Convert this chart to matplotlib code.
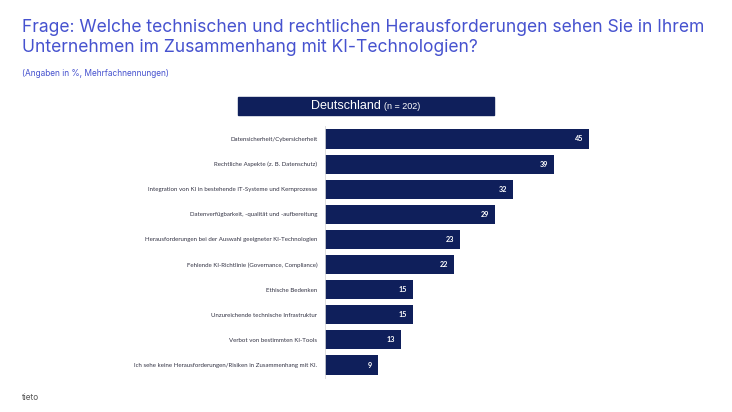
import matplotlib.pyplot as plt

categories = [
    'Datensicherheit/Cybersicherheit',
    'Rechtliche Aspekte (z. B. Datenschutz)',
    'Integration von KI in bestehende IT-Systeme und Kernprozesse',
    'Datenverfügbarkeit, -qualität und -aufbereitung',
    'Herausforderungen bei der Auswahl geeigneter KI-Technologien',
    'Fehlende KI-Richtlinie (Governance, Compliance)',
    'Ethische Bedenken',
    'Unzureichende technische Infrastruktur',
    'Verbot von bestimmten KI-Tools',
    'Ich sehe keine Herausforderungen/Risiken in Zusammenhang mit KI.',
]
values = [45, 39, 32, 29, 23, 22, 15, 15, 13, 9]

navy = '#0f1f5b'
blue = '#4652cf'

fig = plt.figure(figsize=(7.32, 4.12), dpi=100)
W, H = 732, 412

x0 = 325
scale = 5.87
ax = fig.add_axes([x0 / W, 1 - 377.6 / H, 50 * scale / W, (377.6 - 126.4) / H])
ypos = list(range(len(categories)))
ax.barh(ypos, values, height=0.76, color=navy)
ax.set_xlim(0, 50)
ax.set_ylim(len(categories) - 0.5, -0.5)
ax.set_yticks(ypos)
ax.set_yticklabels(categories, fontsize=4.45, color='#333344', family='Lato')
ax.tick_params(axis='y', length=0, pad=5.5)
ax.set_xticks([])
for s in ax.spines.values():
    s.set_visible(False)
ax.spines['left'].set_visible(True)
ax.spines['left'].set_color('#d9d9d9')
ax.spines['left'].set_linewidth(0.6)

for y, v in zip(ypos, values):
    ax.text(v - 1.0, y, str(v), ha='right', va='center', color='white',
            fontsize=5.2, fontweight='bold', family='Lato')

# header box
fig.patches.append(plt.Rectangle((238 / W, 1 - 115 / H), (494 - 238) / W, 18 / H,
                                 transform=fig.transFigure, color=navy))
fig.text(381 / W, 1 - 106 / H, 'Deutschland', ha='right', va='center', color='white',
         fontsize=9, family='Liberation Sans')
fig.text(384 / W, 1 - 106.5 / H, '(n = 202)', ha='left', va='center', color='white',
         fontsize=6.5, family='Liberation Sans')

fig.text(22 / W, 1 - 28 / H, 'Frage: Welche technischen und rechtlichen Herausforderungen sehen Sie in Ihrem',
         ha='left', va='center', color=blue, fontsize=12.6, family='Inter')
fig.text(22 / W, 1 - 48 / H, 'Unternehmen im Zusammenhang mit KI-Technologien?',
         ha='left', va='center', color=blue, fontsize=12.6, family='Inter')
fig.text(22 / W, 1 - 73 / H, '(Angaben in %, Mehrfachnennungen)',
         ha='left', va='center', color=blue, fontsize=6, family='Inter')
fig.text(22 / W, 1 - 397 / H, 'tieto', ha='left', va='center', color='#555555',
         fontsize=6, family='Inter')

fig.savefig('out.png', dpi=100)
